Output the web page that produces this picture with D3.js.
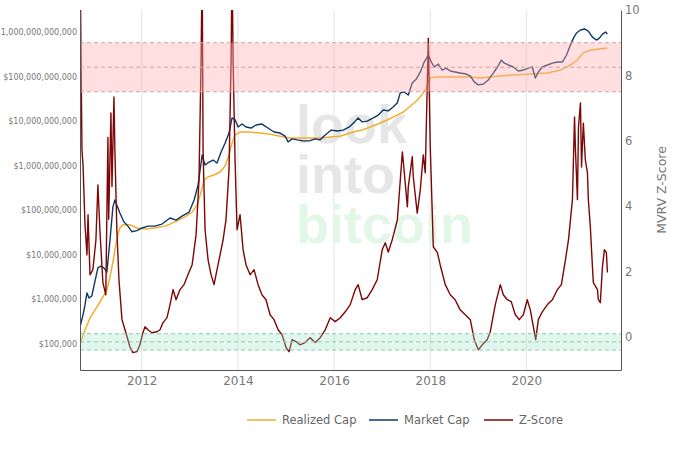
<!DOCTYPE html>
<html>
<head>
<meta charset="utf-8">
<script src="https://cdn.jsdelivr.net/npm/d3@7"></script>
<style>
  body { margin: 0; background: #fff; }
  svg { display: block; }
</style>
</head>
<body>
<div id="chart"></div>
<script>
// realized cap, $ (log axis)
const realizedCap = [
  ["2010-09-19",1.0e5],["2010-10-27",2.06e5],["2010-12-04",3.8e5],["2011-01-26",6.8e5],["2011-03-12",1.13e6],
  ["2011-04-11",1.63e6],["2011-05-05",3.2e6],["2011-05-27",6.9e6],["2011-06-11",1.29e7],["2011-07-04",2.8e7],
  ["2011-07-19",4.0e7],["2011-08-11",4.7e7],["2011-10-03",4.7e7],["2011-11-25",4.0e7],["2012-01-26",3.8e7],
  ["2012-04-10",4.0e7],["2012-06-26",4.4e7],["2012-09-10",5.5e7],["2012-11-25",7.1e7],["2013-01-18",9.1e7],
  ["2013-02-25",1.31e8],["2013-03-27",2.6e8],["2013-04-19",4.8e8],["2013-05-19",5.6e8],["2013-07-03",6.2e8],
  ["2013-08-18",7.2e8],["2013-09-25",9.8e8],["2013-10-25",1.74e9],["2013-11-17",3.2e9],["2013-12-10",4.9e9],
  ["2014-01-17",5.7e9],["2014-04-03",5.7e9],["2014-06-18",5.4e9],["2014-09-02",5.1e9],["2014-11-17",4.6e9],
  ["2015-02-01",4.2e9],["2015-04-17",4.2e9],["2015-07-02",4.2e9],["2015-09-18",4.2e9],["2015-12-03",4.4e9],
  ["2016-02-17",4.6e9],["2016-05-26",5.7e9],["2016-08-02",6.3e9],["2016-10-02",7.4e9],["2016-12-17",9.1e9],
  ["2017-02-08",1.06e10],["2017-04-09",1.3e10],["2017-06-10",1.6e10],["2017-08-03",2.19e10],["2017-09-10",2.69e10],
  ["2017-10-17",3.5e10],["2017-11-24",5.0e10],["2018-01-01",9.3e10],["2018-02-08",9.8e10],["2018-05-10",9.8e10],
  ["2018-08-16",9.8e10],["2018-11-01",9.8e10],["2019-01-16",9.3e10],["2019-04-02",9.8e10],["2019-06-17",1.03e11],
  ["2019-09-24",1.08e11],["2020-01-31",1.14e11],["2020-06-09",1.2e11],["2020-09-16",1.4e11],["2020-12-01",1.82e11],
  ["2021-01-23",2.35e11],["2021-03-09",3.4e11],["2021-05-01",3.9e11],["2021-07-16",4.2e11],["2021-09-08",4.4e11]
];

// market cap, $ (log axis)
const marketCap = [
  ["2010-09-19",2.4e5],["2010-10-12",4.5e5],["2010-10-27",7.5e5],["2010-11-11",1.4e6],["2010-11-26",1.07e6],
  ["2010-12-18",1.2e6],["2011-01-10",2.5e6],["2011-02-02",5.1e6],["2011-02-25",5.6e6],["2011-03-19",5.1e6],
  ["2011-04-11",4.1e6],["2011-05-05",2.15e7],["2011-05-27",1.19e8],["2011-06-11",1.7e8],["2011-06-26",1.31e8],
  ["2011-07-19",8.7e7],["2011-08-18",5.5e7],["2011-09-18",4.4e7],["2011-10-18",3.3e7],["2011-11-25",3.5e7],
  ["2012-01-03",4.0e7],["2012-02-17",4.4e7],["2012-04-10",4.4e7],["2012-06-03",4.9e7],["2012-08-03",6.7e7],
  ["2012-09-18",6.0e7],["2012-11-02",7.4e7],["2012-12-26",9.1e7],["2013-02-02",1.7e8],["2013-03-04",3.7e8],
  ["2013-04-04",1.74e9],["2013-04-26",1.04e9],["2013-05-27",1.21e9],["2013-06-26",1.34e9],["2013-07-26",1.15e9],
  ["2013-08-26",2.03e9],["2013-09-25",3.2e9],["2013-10-25",5.4e9],["2013-11-17",1.18e10],["2013-12-10",1.08e10],
  ["2014-01-02",7.4e9],["2014-02-01",8.6e9],["2014-03-03",7.4e9],["2014-04-10",7.0e9],["2014-05-18",8.2e9],
  ["2014-07-02",8.6e9],["2014-08-17",7.0e9],["2014-10-02",5.7e9],["2014-11-17",5.4e9],["2014-12-25",4.6e9],
  ["2015-01-17",3.4e9],["2015-02-16",4.0e9],["2015-03-26",3.8e9],["2015-05-11",3.6e9],["2015-06-26",3.6e9],
  ["2015-08-11",4.0e9],["2015-09-18",3.8e9],["2015-10-26",4.9e9],["2015-12-11",6.3e9],["2016-01-25",6.0e9],
  ["2016-03-11",6.3e9],["2016-04-26",7.4e9],["2016-06-10",1.0e10],["2016-07-02",1.18e10],["2016-08-02",9.6e9],
  ["2016-09-09",1.0e10],["2016-10-25",1.18e10],["2016-12-02",1.37e10],["2017-01-09",1.78e10],["2017-02-16",1.7e10],
  ["2017-03-25",2.07e10],["2017-04-25",2.55e10],["2017-05-18",4.3e10],["2017-06-18",4.5e10],["2017-07-18",3.85e10],
  ["2017-08-17",7.2e10],["2017-09-17",8.8e10],["2017-10-17",1.27e11],["2017-11-16",2.12e11],["2017-12-17",3.05e11],
  ["2018-01-09",2.12e11],["2018-02-01",1.64e11],["2018-03-03",1.91e11],["2018-04-02",1.4e11],["2018-05-02",1.55e11],
  ["2018-06-02",1.33e11],["2018-07-09",1.27e11],["2018-08-16",1.2e11],["2018-10-01",1.14e11],["2018-11-01",1.03e11],
  ["2018-12-01",7.6e10],["2019-01-01",6.5e10],["2019-02-08",6.8e10],["2019-03-18",8.4e10],["2019-04-25",1.2e11],
  ["2019-05-26",1.64e11],["2019-06-25",2.35e11],["2019-07-18",2.0e11],["2019-08-17",1.82e11],["2019-09-24",1.64e11],
  ["2019-11-01",1.33e11],["2019-12-09",1.4e11],["2020-01-16",1.55e11],["2020-02-15",1.64e11],["2020-03-09",9.3e10],
  ["2020-04-01",1.27e11],["2020-05-01",1.64e11],["2020-06-09",1.82e11],["2020-07-17",2.0e11],["2020-08-24",2.12e11],
  ["2020-10-01",2.12e11],["2020-11-01",3.05e11],["2020-12-01",5.1e11],["2020-12-24",7.3e11],["2021-01-16",9.5e11],
  ["2021-02-15",1.11e12],["2021-03-17",1.17e12],["2021-04-16",1.05e12],["2021-05-17",7.7e11],["2021-06-16",6.6e11],
  ["2021-07-09",7.3e11],["2021-08-01",9.0e11],["2021-08-24",1.0e12],["2021-09-08",9.0e11]
];

// MVRV Z-score (right axis)
const zScore = [
  ["2010-09-19",12.0],["2010-09-27",8.47],["2010-10-04",5.72],["2010-10-12",5.26],["2010-10-27",3.43],
  ["2010-11-11",2.51],["2010-11-19",3.74],["2010-12-04",1.9],["2010-12-26",2.06],["2011-01-18",2.97],
  ["2011-02-02",4.65],["2011-02-17",3.28],["2011-03-12",1.66],["2011-04-03",1.29],["2011-04-19",6.1],
  ["2011-04-25",3.6],["2011-05-12",6.85],["2011-05-20",4.6],["2011-06-04",7.34],["2011-06-11",5.72],
  ["2011-06-26",3.28],["2011-07-12",1.75],["2011-08-04",0.53],["2011-08-27",0.22],["2011-10-03",-0.3],
  ["2011-10-26",-0.48],["2011-11-25",-0.45],["2011-12-18",-0.24],["2012-01-10",0.13],["2012-01-26",0.31],
  ["2012-02-17",0.22],["2012-03-18",0.13],["2012-04-26",0.16],["2012-05-19",0.22],["2012-06-11",0.44],
  ["2012-07-11",0.59],["2012-08-03",0.99],["2012-08-26",1.45],["2012-09-18",1.14],["2012-10-18",1.45],
  ["2012-11-17",1.6],["2012-12-17",1.9],["2013-01-18",2.21],["2013-02-17",3.13],["2013-03-11",4.81],
  ["2013-03-27",8.47],["2013-04-04",11.5],["2013-04-11",5.72],["2013-04-26",3.28],["2013-05-19",2.36],
  ["2013-06-11",1.9],["2013-07-03",1.6],["2013-07-26",2.06],["2013-08-18",2.51],["2013-09-10",2.97],
  ["2013-10-02",3.58],["2013-10-25",5.11],["2013-11-10",8.47],["2013-11-17",11.5],["2013-11-25",8.47],
  ["2013-12-10",5.42],["2013-12-25",3.28],["2014-01-17",3.74],["2014-02-09",2.67],["2014-03-03",2.21],
  ["2014-04-03",1.9],["2014-05-03",2.06],["2014-06-03",1.6],["2014-07-02",1.29],["2014-08-02",1.14],
  ["2014-09-02",0.68],["2014-10-02",0.53],["2014-11-02",0.22],["2014-12-02",0.07],["2015-01-02",-0.33],
  ["2015-01-25",-0.45],["2015-02-16",-0.08],["2015-03-18",-0.14],["2015-04-17",-0.24],["2015-05-26",-0.17],
  ["2015-07-02",-0.02],["2015-08-11",-0.17],["2015-09-18",-0.02],["2015-10-26",0.22],["2015-12-03",0.59],
  ["2016-01-10",0.47],["2016-02-17",0.59],["2016-03-26",0.77],["2016-05-03",0.99],["2016-06-10",1.45],
  ["2016-07-02",1.6],["2016-08-02",1.14],["2016-09-09",1.2],["2016-10-17",1.45],["2016-11-24",1.75],
  ["2017-01-01",2.67],["2017-01-24",2.88],["2017-02-16",2.6],["2017-03-18",2.97],["2017-04-26",3.58],
  ["2017-06-03",5.66],["2017-06-11",5.33],["2017-07-11",3.98],["2017-07-18",4.59],["2017-08-17",5.51],
  ["2017-08-25",4.9],["2017-09-24",3.79],["2017-10-17",4.5],["2017-11-09",5.57],["2017-11-24",5.02],
  ["2017-12-10",7.86],["2017-12-17",9.14],["2018-01-01",5.81],["2018-01-24",2.76],["2018-02-24",2.58],
  ["2018-03-17",2.21],["2018-04-25",1.6],["2018-06-02",1.29],["2018-07-09",1.14],["2018-08-16",0.83],
  ["2018-09-24",0.68],["2018-11-01",0.53],["2018-12-01",-0.08],["2019-01-01",-0.39],["2019-01-31",-0.24],
  ["2019-03-10",-0.08],["2019-04-02",0.16],["2019-05-10",0.99],["2019-06-17",1.6],["2019-07-10",1.29],
  ["2019-08-09",1.14],["2019-09-08",1.08],["2019-10-09",0.68],["2019-11-08",0.53],["2019-12-09",0.68],
  ["2020-01-08",1.14],["2020-01-31",0.83],["2020-03-12",-0.08],["2020-04-01",0.53],["2020-05-01",0.77],
  ["2020-06-09",0.99],["2020-07-17",1.14],["2020-08-24",1.45],["2020-09-23",1.6],["2020-10-24",2.36],
  ["2020-11-16",2.97],["2020-12-16",4.2],["2021-01-01",6.73],["2021-01-08",5.72],["2021-01-23",4.2],
  ["2021-01-31",6.42],["2021-02-15",7.16],["2021-02-23",5.2],["2021-03-09",6.54],["2021-03-24",5.42],
  ["2021-04-09",5.02],["2021-04-16",4.2],["2021-05-01",3.37],["2021-05-17",2.15],["2021-05-24",1.66],
  ["2021-06-24",1.45],["2021-07-01",1.14],["2021-07-16",1.05],["2021-08-01",2.15],["2021-08-16",2.67],
  ["2021-08-31",2.58],["2021-09-08",1.97]
];

const capTicks = [1e5, 1e6, 1e7, 1e8, 1e9, 1e10, 1e11, 1e12];
const zTicks = [0, 2, 4, 6, 8, 10];
const yearTicks = ["2012", "2014", "2016", "2018", "2020"];
const redBand = [7.5, 8.25, 9];      // z-score: bottom, middle, top
const greenBand = [-0.4, -0.15, 0.1];
const seriesNames = ["Realized Cap", "Market Cap", "Z-Score"];
const seriesColors = ["#f2ae2e", "#0e3766", "#7d0606"];
const watermark = ["look", "into", "bitcoin"];

const W = 700, H = 450;
const m = { left: 80, right: 621, top: 10, bottom: 370 };
const parse = d3.utcParse("%Y-%m-%d");
const font = "'DejaVu Sans', Verdana, sans-serif";

const x = d3.scaleUtc()
  .domain([parse("2010-09-19"), parse("2021-12-20")])
  .range([m.left, m.right]);
const yCap = d3.scaleLog()
  .domain([Math.pow(10, 4.415), Math.pow(10, 12.494)])
  .range([m.bottom, m.top]);
const yZ = d3.scaleLinear()
  .domain([-1.01, 10])
  .range([m.bottom, m.top]);

const svg = d3.select("#chart").append("svg")
  .attr("width", W).attr("height", H)
  .attr("font-family", font);

svg.append("defs").append("clipPath").attr("id", "plotclip")
  .append("rect")
  .attr("x", m.left).attr("y", m.top)
  .attr("width", m.right - m.left).attr("height", m.bottom - m.top);

// vertical grid
svg.append("g")
  .selectAll("line")
  .data(yearTicks)
  .join("line")
  .attr("x1", d => x(parse(d + "-01-01"))).attr("x2", d => x(parse(d + "-01-01")))
  .attr("y1", m.top).attr("y2", m.bottom)
  .attr("stroke", "#e3e3e3").attr("stroke-width", 1);

// watermark (one text block, three lines)
svg.append("text")
  .attr("font-family", "'Liberation Sans', Arial, sans-serif")
  .attr("font-weight", "bold")
  .attr("font-size", 54)
  .selectAll("tspan")
  .data(watermark)
  .join("tspan")
  .attr("x", 296)
  .attr("y", (d, i) => 143 + i * 50)
  .attr("fill", (d, i) => i < 2 ? "#e6e6e6" : "#e2f7e5")
  .text(d => d);

// series
const plot = svg.append("g").attr("clip-path", "url(#plotclip)");
const capLine = d3.line().x(d => x(parse(d[0]))).y(d => yCap(d[1]));
const zLine = d3.line().x(d => x(parse(d[0]))).y(d => yZ(d[1]));

plot.append("path").datum(realizedCap)
  .attr("fill", "none").attr("stroke", seriesColors[0]).attr("stroke-width", 1.5)
  .attr("d", capLine);
plot.append("path").datum(marketCap)
  .attr("fill", "none").attr("stroke", seriesColors[1]).attr("stroke-width", 1.4)
  .attr("stroke-linejoin", "round")
  .attr("d", capLine);
plot.append("path").datum(zScore)
  .attr("fill", "none").attr("stroke", seriesColors[2]).attr("stroke-width", 1.4)
  .attr("stroke-linejoin", "round")
  .attr("d", zLine);

// bands, drawn over the lines
function band(vals, fill, dash) {
  const g = svg.append("g");
  g.append("rect")
    .attr("x", m.left).attr("width", m.right - m.left)
    .attr("y", yZ(vals[2])).attr("height", yZ(vals[0]) - yZ(vals[2]))
    .attr("fill", fill);
  g.selectAll("line").data(vals).join("line")
    .attr("x1", m.left).attr("x2", m.right)
    .attr("y1", d => yZ(d)).attr("y2", d => yZ(d))
    .attr("stroke", dash).attr("stroke-width", 1)
    .attr("stroke-dasharray", "4,3");
}
band(redBand, "rgba(255,170,170,0.38)", "#d4a0a4");
band(greenBand, "rgba(150,228,195,0.3)", "#95c7b6");

// axes
const leftAxis = svg.append("g")
  .attr("transform", `translate(${m.left},0)`)
  .call(d3.axisLeft(yCap).tickValues(capTicks).tickSize(0).tickPadding(3)
    .tickFormat(d => "$" + d3.format(",.0f")(d)));
leftAxis.select(".domain").attr("stroke", "#555");
leftAxis.selectAll("text").attr("fill", "#777").attr("font-size", 8).attr("font-family", font);

const rightAxis = svg.append("g")
  .attr("transform", `translate(${m.right},0)`)
  .call(d3.axisRight(yZ).tickValues(zTicks).tickSize(0).tickPadding(4));
rightAxis.select(".domain").attr("stroke", "#555");
rightAxis.selectAll("text").attr("fill", "#777").attr("font-size", 11.5).attr("font-family", font);

const bottomAxis = svg.append("g")
  .attr("transform", `translate(0,${m.bottom})`)
  .call(d3.axisBottom(x).tickValues(yearTicks.map(d => parse(d + "-01-01")))
    .tickSize(0).tickPadding(6).tickFormat(d3.utcFormat("%Y")));
bottomAxis.select(".domain").attr("stroke", "#555");
bottomAxis.selectAll("text").attr("fill", "#777").attr("font-size", 12).attr("font-family", font);

svg.append("text")
  .attr("transform", `translate(662,${(m.top + m.bottom) / 2}) rotate(-90)`)
  .attr("text-anchor", "middle")
  .attr("dominant-baseline", "middle")
  .attr("fill", "#777").attr("font-size", 12.5)
  .text("MVRV Z-Score");

// legend
const legendX = [247, 369, 484];
const legend = svg.append("g").attr("font-size", 11.5);
seriesNames.forEach((name, i) => {
  const g = legend.append("g").attr("transform", `translate(${legendX[i]},420)`);
  g.append("line").attr("x1", 0).attr("x2", 29).attr("y1", 0).attr("y2", 0)
    .attr("stroke", seriesColors[i]).attr("stroke-width", 1.5);
  g.append("text").attr("x", 35).attr("y", 0).attr("dy", "0.35em")
    .attr("fill", "#666").text(name);
});
</script>
</body>
</html>
